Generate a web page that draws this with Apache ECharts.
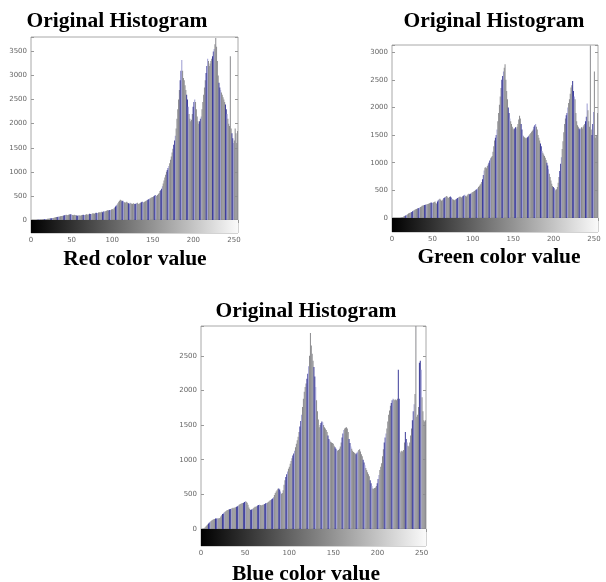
<!DOCTYPE html>
<html>
<head>
<meta charset="utf-8">
<title>Original Histogram</title>
<script src="https://cdn.jsdelivr.net/npm/echarts@6.0.0/dist/echarts.min.js"></script>
<style>
  html, body { margin: 0; padding: 0; background: #fff; }
  #chart { width: 606px; height: 582px; }
</style>
</head>
<body>
<div id="chart"></div>
<script>
// pixel intensity 0..255
const bins = [];
for (let i = 0; i < 256; i++) bins.push(String(i));

// counts, 16 bins per row
const redCounts = [
  0, 0, 0, 0, 0, 0, 2, 3, 5, 5, 8, 10, 10, 12, 15, 15,
  18, 20, 20, 22, 25, 28, 30, 30, 35, 38, 40, 42, 45, 50, 55, 60,
  60, 65, 70, 75, 80, 85, 85, 90, 95, 100, 105, 110, 105, 100, 110, 115,
  120, 115, 110, 105, 100, 110, 105, 100, 95, 90, 95, 100, 90, 95, 100, 105,
  110, 105, 100, 110, 120, 115, 110, 120, 130, 125, 120, 130, 140, 135, 130, 145,
  150, 145, 140, 155, 160, 150, 165, 170, 160, 175, 180, 170, 185, 190, 200, 195,
  200, 210, 205, 220, 230, 215, 240, 260, 280, 300, 320, 350, 380, 400, 420, 410,
  390, 400, 380, 370, 360, 370, 380, 360, 350, 340, 360, 350, 340, 330, 350, 340,
  330, 340, 350, 360, 340, 330, 350, 360, 370, 380, 360, 370, 380, 390, 400, 410,
  420, 430, 440, 450, 460, 470, 480, 490, 500, 520, 510, 500, 520, 540, 560, 600,
  620, 650, 700, 760, 820, 880, 940, 1000, 1040, 1080, 1120, 1180, 1250, 1320, 1400, 1480,
  1560, 1650, 1750, 1900, 2100, 2300, 2500, 2700, 2900, 3100, 3320, 3100, 2950, 2900, 2800, 2700,
  2600, 2500, 2350, 2200, 2100, 2050, 2080, 2200, 2350, 2450, 2500, 2450, 2300, 2150, 2050, 2000,
  2050, 2100, 2150, 2300, 2450, 2600, 2750, 2900, 3050, 3200, 3350, 3300, 3200, 3250, 3300, 3350,
  3400, 3500, 3550, 3650, 3780, 3600, 3300, 3000, 2850, 2750, 2700, 2650, 2600, 2550, 2500, 2450,
  2400, 2300, 2200, 2100, 2000, 1950, 3400, 1900, 1800, 1700, 1600, 1650, 1900, 1800, 1600, 1850
];

const greenCounts = [
  0, 0, 0, 0, 0, 0, 0, 0, 0, 0, 5, 10, 15, 20, 25, 30,
  40, 50, 60, 70, 80, 90, 95, 100, 110, 120, 130, 140, 150, 160, 165, 170,
  175, 180, 190, 200, 210, 220, 225, 230, 235, 240, 245, 250, 255, 260, 265, 270,
  280, 275, 270, 280, 290, 300, 270, 260, 300, 320, 340, 350, 330, 310, 320, 340,
  360, 370, 380, 400, 390, 370, 360, 380, 390, 370, 350, 340, 330, 320, 330, 340,
  350, 360, 370, 380, 390, 380, 370, 390, 400, 410, 420, 400, 390, 410, 430, 440,
  430, 440, 450, 460, 470, 480, 490, 500, 510, 520, 540, 560, 580, 600, 620, 650,
  700, 780, 860, 910, 920, 900, 940, 970, 1000, 1040, 1080, 1100, 1120, 1200, 1300, 1400,
  1450, 1500, 1600, 1750, 1900, 2050, 2200, 2350, 2500, 2570, 2650, 2720, 2780, 2500, 2300, 2150,
  2000, 1900, 1800, 1750, 1700, 1650, 1620, 1600, 1620, 1640, 1620, 1650, 1700, 1780, 1850, 1800,
  1700, 1600, 1500, 1480, 1460, 1450, 1440, 1450, 1460, 1480, 1500, 1520, 1540, 1560, 1580, 1600,
  1650, 1680, 1700, 1650, 1600, 1500, 1450, 1400, 1350, 1300, 1210, 1180, 1150, 1120, 1090, 1050,
  1000, 950, 880, 800, 740, 680, 620, 580, 560, 540, 520, 500, 520, 560, 640, 740,
  850, 980, 1100, 1250, 1390, 1550, 1700, 1800, 1860, 1900, 2000, 2080, 2150, 2250, 2360, 2400,
  2480, 2300, 2200, 2150, 1900, 1750, 1680, 1650, 1620, 1600, 1620, 1640, 1620, 1650, 1680, 1700,
  1750, 1830, 2070, 1950, 1750, 1650, 3120, 1600, 1500, 1700, 1920, 2650, 1450, 1500, 1500, 1900
];

const blueCounts = [
  0, 0, 5, 10, 20, 35, 50, 65, 80, 95, 105, 115, 125, 135, 140, 145,
  150, 150, 155, 150, 155, 160, 180, 200, 215, 225, 240, 250, 260, 270, 275, 280,
  285, 290, 295, 300, 305, 300, 310, 315, 320, 330, 340, 350, 360, 365, 370, 375,
  380, 390, 400, 395, 380, 350, 310, 290, 275, 280, 290, 300, 310, 320, 320, 330,
  340, 345, 350, 345, 340, 345, 350, 355, 360, 370, 375, 380, 390, 400, 410, 420,
  430, 440, 460, 490, 520, 540, 560, 580, 585, 570, 540, 510, 520, 560, 640, 705,
  750, 790, 830, 870, 900, 940, 980, 1020, 1060, 1090, 1130, 1180, 1230, 1280, 1330, 1400,
  1480, 1560, 1650, 1760, 1880, 1980, 2050, 2100, 2170, 2240, 2350, 2500, 2830, 2650, 2530, 2430,
  2340, 2200, 2050, 1860, 1700, 1580, 1470, 1500, 1530, 1550, 1540, 1500, 1470, 1450, 1430, 1400,
  1350, 1300, 1280, 1260, 1250, 1240, 1230, 1200, 1180, 1160, 1140, 1130, 1140, 1160, 1190, 1250,
  1320, 1380, 1430, 1450, 1460, 1470, 1450, 1400, 1300, 1240, 1190, 1160, 1130, 1110, 1100, 1090,
  1080, 1100, 1120, 1140, 1150, 1120, 1080, 1050, 1000, 960, 920, 880, 850, 820, 790, 760,
  705, 660, 620, 585, 580, 590, 600, 620, 660, 720, 780, 850, 900, 950, 1050, 1150,
  1250, 1320, 1380, 1450, 1550, 1650, 1710, 1780, 1820, 1860, 1880, 1870, 1860, 1870, 1860, 1880,
  2300, 1880, 1100, 1120, 1130, 1120, 1140, 1250, 1400, 1300, 1250, 1200, 1190, 1250, 1350, 1450,
  1570, 1700, 1800, 1950, 2930, 1620, 1650, 1760, 2400, 2430, 2300, 1900, 1700, 1570, 1550, 1570
];

const panels = [
  { title: "Original Histogram", label: "Red color value", counts: redCounts, yMax: 3800,
    box: { left: 31, top: 37, width: 207, height: 183, bar: 13 }, titleX: 117, titleY: 10, labelX: 135, labelY: 248 },
  { title: "Original Histogram", label: "Green color value", counts: greenCounts, yMax: 3130,
    box: { left: 392, top: 45, width: 206, height: 173, bar: 14 }, titleX: 494, titleY: 10, labelX: 499, labelY: 246 },
  { title: "Original Histogram", label: "Blue color value", counts: blueCounts, yMax: 2930,
    box: { left: 201, top: 326, width: 225, height: 203, bar: 17 }, titleX: 306, titleY: 300, labelX: 306, labelY: 563 }
];

// the scanned bars show blue / lavender stripes among grey ones
function stripeColor(i) {
  const k = i % 8;
  if (k === 0 || k === 1) return "#3b3b98";
  if (k === 2) return "#9b9bd2";
  return "#8a8a8e";
}

const tickFont = { color: "#666", fontSize: 7, fontFamily: "DejaVu Sans" };
const serif = { fontFamily: "Liberation Serif", fontWeight: "bold", fontSize: 21.5, color: "#000" };

const grid = [], xAxis = [], yAxis = [], series = [], title = [];

panels.forEach((p, n) => {
  const b = p.box;
  grid.push({ left: b.left, top: b.top, width: b.width, height: b.height,
    show: true, borderColor: "#a8a8a8", borderWidth: 1, containLabel: false });
  grid.push({ left: b.left, top: b.top + b.height, width: b.width, height: b.bar,
    show: true, borderColor: "#a8a8a8", borderWidth: 1, containLabel: false });

  const g = n * 2;
  // histogram axes
  xAxis.push({ type: "category", data: bins, gridIndex: g, boundaryGap: true,
    axisLine: { show: false }, axisTick: { show: false }, axisLabel: { show: false } });
  xAxis.push({ type: "value", gridIndex: g, position: "top", min: 0, max: 255, interval: 50,
    axisLine: { show: false }, splitLine: { show: false }, axisLabel: { show: false },
    axisTick: { inside: true, length: 3, lineStyle: { color: "#999" } } });
  // colour bar axis with the tick labels
  xAxis.push({ type: "value", gridIndex: g + 1, min: 0, max: 255, interval: 50,
    axisLine: { show: false }, splitLine: { show: false },
    axisTick: { inside: true, length: 3, lineStyle: { color: "#999" } },
    axisLabel: Object.assign({ margin: 4, formatter: v => (v % 50 === 0 ? v : "") }, tickFont) });

  yAxis.push({ type: "value", gridIndex: g, min: 0, max: p.yMax, interval: 500,
    axisLine: { show: false }, splitLine: { show: false },
    axisTick: { inside: true, length: 3, lineStyle: { color: "#999" } },
    axisLabel: Object.assign({ margin: 4, formatter: v => (v % 500 === 0 ? v : "") }, tickFont) });
  yAxis.push({ type: "value", gridIndex: g, position: "right", min: 0, max: p.yMax, interval: 500,
    axisLine: { show: false }, splitLine: { show: false }, axisLabel: { show: false },
    axisTick: { inside: true, length: 3, lineStyle: { color: "#999" } } });
  yAxis.push({ type: "category", gridIndex: g + 1, data: ["bar"], show: false });

  series.push({
    type: "bar", xAxisIndex: n * 3, yAxisIndex: n * 3, data: p.counts,
    barCategoryGap: "10%", silent: true,
    itemStyle: { color: params => stripeColor(params.dataIndex) }
  });
  series.push({
    type: "bar", xAxisIndex: n * 3 + 2, yAxisIndex: n * 3 + 2, data: [255],
    barWidth: "100%", silent: true,
    itemStyle: { color: new echarts.graphic.LinearGradient(0, 0, 1, 0, [
      { offset: 0, color: "#000" }, { offset: 1, color: "#fafafa" }]) }
  });

  title.push({ text: p.title, left: p.titleX, top: p.titleY, textAlign: "center", padding: 0, textStyle: serif });
  title.push({ text: p.label, left: p.labelX, top: p.labelY, textAlign: "center", padding: 0, textStyle: serif });
});

const myChart = echarts.init(document.getElementById("chart"), null, { renderer: "canvas" });
myChart.setOption({
  backgroundColor: "#fff",
  animation: false,
  title: title,
  grid: grid,
  xAxis: xAxis,
  yAxis: yAxis,
  series: series
});
</script>
</body>
</html>
